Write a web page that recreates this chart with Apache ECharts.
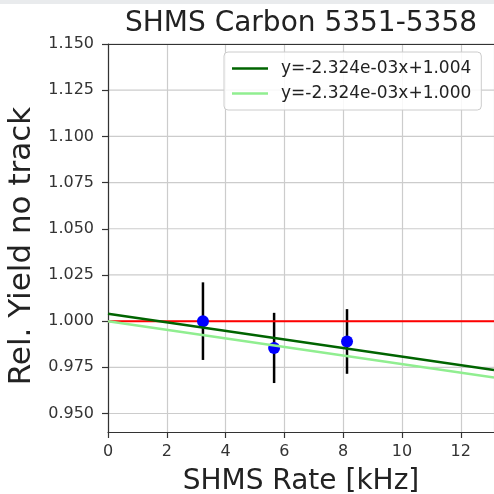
<!DOCTYPE html>
<html>
<head>
<meta charset="utf-8">
<script src="https://cdn.jsdelivr.net/npm/echarts@6/dist/echarts.min.js"></script>
<style>html,body{margin:0;padding:0;background:#fff;}#c{width:494px;height:494px;}</style>
</head>
<body>
<div id="c"></div>
<script>
// Data
var rateX = [3.23, 5.65, 8.13];
var yieldY = [1.000, 0.9855, 0.9890];
var yieldErr = [0.021, 0.019, 0.0175];
var fitSlope = -2.324e-03;
var fitIntercepts = [1.004, 1.000];
var fitNames = ['y=-2.324e-03x+1.004', 'y=-2.324e-03x+1.000'];
var yTicks = [0.950, 0.975, 1.000, 1.025, 1.050, 1.075, 1.100, 1.125, 1.150];
var xMin = 0, xMax = 13.13, yMin = 0.94, yMax = 1.15;

var font = 'DejaVu Sans';
var chart = echarts.init(document.getElementById('c'));

function fitLine(b) {
  return [[xMin, b + fitSlope * xMin], [xMax, b + fitSlope * xMax]];
}

var option = {
  backgroundColor: '#ffffff',
  animation: false,
  title: {
    text: 'SHMS Carbon 5351-5358',
    left: 296, top: 5, textAlign: 'center',
    textStyle: { fontFamily: font, fontSize: 28, fontWeight: 'normal', color: '#222' }
  },
  graphic: [{ type: 'rect', shape: { x: 0, y: 0, width: 494, height: 4 }, style: { fill: '#e9ebed' }, silent: true }],
  legend: {
    orient: 'vertical', left: 224, top: 52,
    padding: [6, 10, 6, 8], itemGap: 4,
    backgroundColor: 'rgba(255,255,255,0.85)', borderColor: '#cccccc', borderWidth: 1, borderRadius: 4,
    icon: 'rect', itemWidth: 36, itemHeight: 2.5,
    data: fitNames,
    textStyle: { fontFamily: font, fontSize: 17, color: '#222', padding: [0, 0, 0, 8], lineHeight: 21 }
  },
  grid: { left: 108, right: 0, top: 44, bottom: 62, containLabel: false, outerBoundsMode: 'none' },
  xAxis: [{
    type: 'value', min: xMin, max: xMax, interval: 2,
    name: 'SHMS Rate [kHz]', nameLocation: 'middle', nameGap: 36,
    nameTextStyle: { fontFamily: font, fontSize: 28, color: '#222' },
    axisLine: { show: true, onZero: false, lineStyle: { color: '#333', width: 1.2 } },
    axisTick: { show: true, length: 6, lineStyle: { color: '#333', width: 1.2 } },
    axisLabel: { fontFamily: font, fontSize: 16, color: '#333', margin: 12, showMaxLabel: false },
    splitLine: { show: true, lineStyle: { color: '#cccccc', width: 1.2 } }
  }, {
    type: 'value', position: 'top', min: xMin, max: xMax,
    axisLine: { show: true, lineStyle: { color: '#333', width: 1.2 } },
    axisTick: { show: false }, axisLabel: { show: false }, splitLine: { show: false }
  }],
  yAxis: {
    type: 'value', min: yMin, max: yMax,
    name: 'Rel. Yield no track', nameLocation: 'middle', nameGap: 70,
    nameTextStyle: { fontFamily: font, fontSize: 31, color: '#222', padding: [0, 16, 0, 0] },
    axisLine: { show: true, onZero: false, lineStyle: { color: '#333', width: 1.2 } },
    axisTick: { show: true, length: 6, customValues: yTicks, lineStyle: { color: '#333', width: 1.2 } },
    axisLabel: {
      fontFamily: font, fontSize: 16, color: '#333', margin: 14, customValues: yTicks,
      formatter: function (v) { return v.toFixed(3); }
    },
    splitLine: { show: false }
  },
  series: [
    {
      type: 'custom', name: 'gridlines', z: 0, silent: true,
      data: yTicks.map(function (v) { return [v]; }),
      renderItem: function (params, api) {
        var v = api.value(0);
        var p1 = api.coord([xMin, v]);
        var p2 = api.coord([xMax, v]);
        return { type: 'line', shape: { x1: p1[0], y1: p1[1], x2: p2[0], y2: p2[1] }, style: { stroke: '#cccccc', lineWidth: 1.2 } };
      },
      encode: { y: 0 }
    },
    {
      type: 'custom', name: 'err', z: 2, silent: true,
      data: rateX.map(function (x, i) { return [x, yieldY[i] - yieldErr[i], yieldY[i] + yieldErr[i]]; }),
      renderItem: function (params, api) {
        var p1 = api.coord([api.value(0), api.value(1)]);
        var p2 = api.coord([api.value(0), api.value(2)]);
        return { type: 'line', shape: { x1: p1[0], y1: p1[1], x2: p2[0], y2: p2[1] }, style: { stroke: '#000', lineWidth: 2.5 } };
      },
      encode: { x: 0, y: [1, 2] }
    },
    {
      type: 'line', name: 'unity', z: 3, symbol: 'none', silent: true,
      data: [[xMin, 1.0], [xMax, 1.0]],
      lineStyle: { color: '#ff0000', width: 2 }
    },
    {
      type: 'scatter', name: 'data', z: 4, symbolSize: 12,
      itemStyle: { color: '#0000ff', opacity: 1 },
      data: rateX.map(function (x, i) { return [x, yieldY[i]]; })
    },
    {
      type: 'line', name: fitNames[0], z: 5, symbol: 'none',
      data: fitLine(fitIntercepts[0]),
      itemStyle: { color: '#006400' },
      lineStyle: { color: '#006400', width: 2.5 }
    },
    {
      type: 'line', name: fitNames[1], z: 5, symbol: 'none',
      data: fitLine(fitIntercepts[1]),
      itemStyle: { color: '#90ee90' },
      lineStyle: { color: '#90ee90', width: 2.5 }
    }
  ]
};
chart.setOption(option);
</script>
</body>
</html>
